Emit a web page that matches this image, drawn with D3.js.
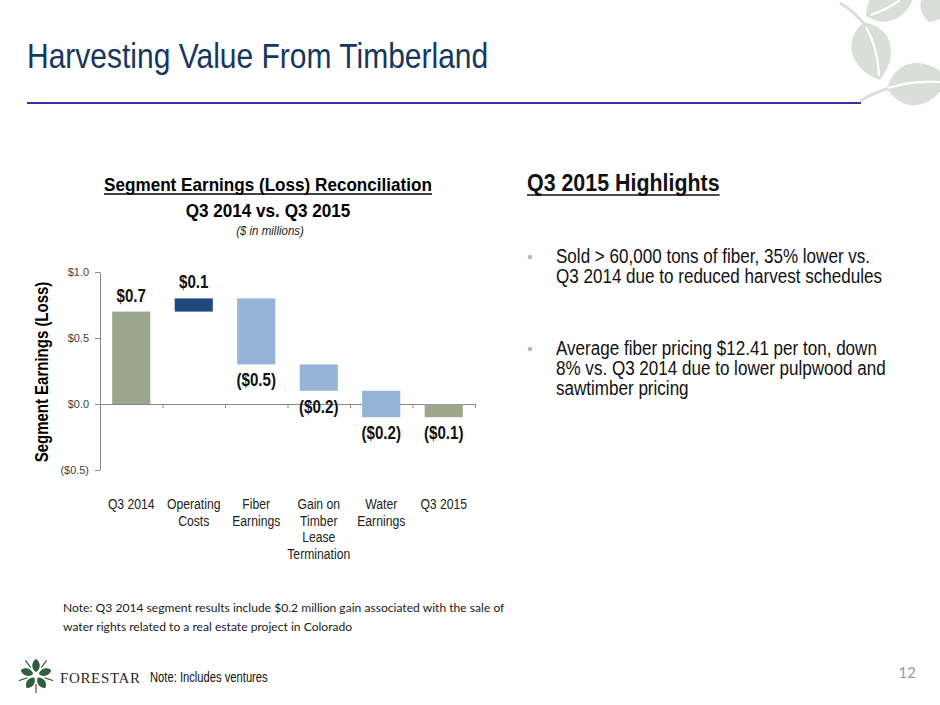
<!DOCTYPE html>
<html>
<head>
<meta charset="utf-8">
<script src="https://cdn.jsdelivr.net/npm/d3@7"></script>
<style>
  body { margin: 0; background: #fff; }
  svg { display: block; }
</style>
</head>
<body>
<svg width="940" height="705"></svg>
<script>
// waterfall data, Q3 2014 -> Q3 2015 ($ in millions)
var categories = ["Q3 2014", "Operating Costs", "Fiber Earnings", "Gain on Timber Lease Termination", "Water Earnings", "Q3 2015"];
var categoryLines = [["Q3 2014"], ["Operating", "Costs"], ["Fiber", "Earnings"], ["Gain on", "Timber", "Lease", "Termination"], ["Water", "Earnings"], ["Q3 2015"]];
var barStart = [0, 0.7, 0.8, 0.3, 0.1, 0];
var barEnd = [0.7, 0.8, 0.3, 0.1, -0.1, -0.1];
var barKind = ["total", "increase", "decrease", "decrease", "decrease", "total"];
var valueLabels = ["$0.7", "$0.1", "($0.5)", "($0.2)", "($0.2)", "($0.1)"];
var yTicks = [-0.5, 0, 0.5, 1.0];

var bullets = [
  ["Sold > 60,000 tons of fiber, 35% lower vs.", "Q3 2014 due to reduced harvest schedules"],
  ["Average fiber pricing $12.41 per ton, down", "8% vs. Q3 2014 due to lower pulpwood and", "sawtimber pricing"]
];
var noteLines = [
  "Note: Q3 2014 segment results include $0.2 million gain associated with the sale of",
  "water rights related to a real estate project in Colorado"
];

var sans = "'Liberation Sans', Arial, Helvetica, sans-serif";
var colors = { total: "#9BA68D", increase: "#1F497D", decrease: "#95B3D7" };

var svg = d3.select("svg");

// no narrow Helvetica here, so squeeze the glyphs horizontally
function squeeze(sel, k) {
  sel.each(function () {
    var len = this.getComputedTextLength();
    d3.select(this).attr("textLength", len * k).attr("lengthAdjust", "spacingAndGlyphs");
  });
  return sel;
}

// ---- slide header ----
squeeze(svg.append("text")
  .attr("x", 27).attr("y", 68)
  .style("font-family", sans)
  .style("font-size", "35px")
  .style("fill", "#17375E")
  .text("Harvesting Value From Timberland"), 0.857);

svg.append("line")
  .attr("x1", 27).attr("x2", 861)
  .attr("y1", 103).attr("y2", 103)
  .style("stroke", "#3333A0")
  .style("stroke-width", 2.2);

// leaf decoration top right
var deco = svg.append("g").style("fill", "#D9DFD8");
function leaf(g, x, y, len, wid, ang) {
  var p = "M0,0 C" + len * 0.2 + "," + (-wid) + " " + len * 0.7 + "," + (-wid) + " " + len + ",0" +
          " C" + len * 0.7 + "," + wid + " " + len * 0.2 + "," + wid + " 0,0Z";
  g.append("path")
    .attr("d", p)
    .attr("transform", "translate(" + x + "," + y + ")rotate(" + ang + ")");
}
leaf(deco, 866, 16, 56, 22, -28);
leaf(deco, 929, 22, 42, 19, -72);
leaf(deco, 864, 22, 60, 26, 75);
leaf(deco, 887, 89, 62, 28, -10);
deco.append("path")
  .attr("d", "M840,3 Q855,12 866,26")
  .style("fill", "none").style("stroke", "#D9DFD8").style("stroke-width", 3);
deco.append("path")
  .attr("d", "M866,27 Q878,48 879,76")
  .style("fill", "none").style("stroke", "#fff").style("stroke-width", 2.2);
deco.append("path")
  .attr("d", "M860,101 Q875,92 890,88")
  .style("fill", "none").style("stroke", "#D9DFD8").style("stroke-width", 3);
deco.append("path")
  .attr("d", "M888,88 Q915,80 940,82")
  .style("fill", "none").style("stroke", "#fff").style("stroke-width", 2.2);
deco.append("path")
  .attr("d", "M871,15 Q888,9 900,0")
  .style("fill", "none").style("stroke", "#fff").style("stroke-width", 2.2);

// ---- chart titles ----
var t1 = squeeze(svg.append("text")
  .attr("x", 268).attr("y", 191)
  .attr("text-anchor", "middle")
  .style("font-family", sans)
  .style("font-size", "19px")
  .style("font-weight", "bold")
  .style("fill", "#000")
  .text("Segment Earnings (Loss) Reconciliation"), 0.9);
var w1 = +t1.attr("textLength");
svg.append("line")
  .attr("x1", 268 - w1 / 2).attr("x2", 268 + w1 / 2)
  .attr("y1", 194).attr("y2", 194)
  .style("stroke", "#000").style("stroke-width", 1.3);

squeeze(svg.append("text")
  .attr("x", 268).attr("y", 217)
  .attr("text-anchor", "middle")
  .style("font-family", sans)
  .style("font-size", "19px")
  .style("font-weight", "bold")
  .text("Q3 2014 vs. Q3 2015"), 0.9);

squeeze(svg.append("text")
  .attr("x", 270).attr("y", 235)
  .attr("text-anchor", "middle")
  .style("font-family", sans)
  .style("font-size", "12.5px")
  .style("font-style", "italic")
  .style("fill", "#222")
  .text("($ in millions)"), 0.92);

// ---- scales ----
var xScale = d3.scaleBand().domain(categories).range([100, 475]).padding(0);
var yScale = d3.scaleLinear().domain([-0.5, 1.0]).range([470, 272]);
var bw = xScale.bandwidth();
var barW = bw * 0.61;

// y axis
var yAxis = svg.append("g")
  .attr("transform", "translate(100,0)")
  .call(d3.axisLeft(yScale)
    .tickValues(yTicks)
    .tickSize(5)
    .tickSizeOuter(0)
    .tickFormat(function (v) {
      return v < 0 ? "($" + Math.abs(v).toFixed(1) + ")" : "$" + v.toFixed(1);
    }));
yAxis.selectAll("path, line").style("stroke", "#888");
squeeze(yAxis.selectAll("text")
  .attr("x", -11)
  .style("font-family", sans)
  .style("font-size", "11.5px")
  .style("fill", "#404040"), 0.95);

// x axis at zero with tick marks on band edges
var edgeScale = d3.scaleLinear().domain([0, categories.length]).range([100, 475]);
var xAxis = svg.append("g")
  .attr("transform", "translate(0," + yScale(0) + ")")
  .call(d3.axisBottom(edgeScale)
    .tickValues(d3.range(1, categories.length + 1))
    .tickSize(4)
    .tickSizeOuter(0)
    .tickFormat(""));
xAxis.selectAll("path, line").style("stroke", "#888");

// y axis title
squeeze(svg.append("text")
  .attr("text-anchor", "middle")
  .attr("transform", "translate(48,372)rotate(-90)")
  .style("font-family", sans)
  .style("font-size", "18.5px")
  .style("font-weight", "bold")
  .text("Segment Earnings (Loss)"), 0.81);

// ---- bars ----
var idx = d3.range(categories.length);
svg.append("g")
  .selectAll("rect")
  .data(idx)
  .enter()
  .append("rect")
  .attr("x", function (i) { return xScale(categories[i]) + (bw - barW) / 2; })
  .attr("y", function (i) { return yScale(Math.max(barStart[i], barEnd[i])); })
  .attr("width", barW)
  .attr("height", function (i) { return Math.abs(yScale(barStart[i]) - yScale(barEnd[i])); })
  .style("fill", function (i) { return colors[barKind[i]]; });

// value labels: above for gains, below for losses
squeeze(svg.append("g")
  .selectAll("text")
  .data(idx)
  .enter()
  .append("text")
  .attr("x", function (i) { return xScale(categories[i]) + bw / 2; })
  .attr("y", function (i) {
    var up = barEnd[i] > barStart[i];
    return up ? yScale(Math.max(barStart[i], barEnd[i])) - 10
              : yScale(Math.min(barStart[i], barEnd[i])) + 22;
  })
  .attr("text-anchor", "middle")
  .style("font-family", sans)
  .style("font-size", "18px")
  .style("font-weight", "bold")
  .style("fill", "#111")
  .text(function (i) { return valueLabels[i]; }), 0.84);

// category labels, one text per line
var catRows = [];
categoryLines.forEach(function (lines, i) {
  lines.forEach(function (line, k) { catRows.push({ i: i, k: k, t: line }); });
});
squeeze(svg.append("g")
  .selectAll("text")
  .data(catRows)
  .enter()
  .append("text")
  .attr("x", function (d) { return xScale(categories[d.i]) + bw / 2; })
  .attr("y", function (d) { return 509 + d.k * 16.5; })
  .attr("text-anchor", "middle")
  .style("font-family", sans)
  .style("font-size", "14px")
  .style("fill", "#222")
  .text(function (d) { return d.t; }), 0.87);

// ---- highlights ----
var h = squeeze(svg.append("text")
  .attr("x", 527).attr("y", 191)
  .style("font-family", sans)
  .style("font-size", "23px")
  .style("font-weight", "bold")
  .style("fill", "#111")
  .text("Q3 2015 Highlights"), 0.93);
svg.append("line")
  .attr("x1", 527).attr("x2", 527 + (+h.attr("textLength")))
  .attr("y1", 195).attr("y2", 195)
  .style("stroke", "#111").style("stroke-width", 1.5);

var bulletTop = [263, 355];
bullets.forEach(function (lines, b) {
  svg.append("circle")
    .attr("cx", 530).attr("cy", bulletTop[b] - 6)
    .attr("r", 2.3)
    .style("fill", "#B8B8B8");
  lines.forEach(function (line, k) {
    squeeze(svg.append("text")
      .attr("x", 556)
      .attr("y", bulletTop[b] + k * 20)
      .style("font-family", sans)
      .style("font-size", "19.5px")
      .style("fill", "#111")
      .text(line), 0.874);
  });
});

// ---- note ----
noteLines.forEach(function (line, k) {
  svg.append("text")
    .attr("x", 63).attr("y", 612 + k * 19)
    .style("font-family", "Lato, 'Open Sans', sans-serif")
    .style("font-size", "12.1px")
    .style("fill", "#1a1a1a")
    .text(line);
});

// ---- footer ----
var logo = svg.append("g").attr("transform", "translate(36,675)");
d3.range(5).forEach(function (k) {
  var a = k * 72 - 90;
  logo.append("path")
    .attr("d", "M0,0 C3,-5 10,-5 13,0 C10,5 3,5 0,0Z")
    .attr("transform", "rotate(" + a + ")translate(3,0)")
    .style("fill", "#2F5E3B");
  logo.append("line")
    .attr("x1", 0).attr("y1", 0).attr("x2", 9).attr("y2", 0)
    .attr("transform", "rotate(" + (a + 36) + ")translate(9,0)")
    .style("stroke", "#2F5E3B").style("stroke-width", 1.2);
});

svg.append("text")
  .attr("x", 60).attr("y", 683)
  .attr("textLength", 80)
  .style("font-family", "'Liberation Serif', 'DejaVu Serif', serif")
  .style("font-size", "15px")
  .style("fill", "#2a2a2a")
  .text("FORESTAR");

squeeze(svg.append("text")
  .attr("x", 150).attr("y", 682)
  .style("font-family", sans)
  .style("font-size", "14px")
  .style("fill", "#111")
  .text("Note: Includes ventures"), 0.8);

svg.append("text")
  .attr("x", 916).attr("y", 678)
  .attr("text-anchor", "end")
  .style("font-family", "Lato, sans-serif")
  .style("font-size", "15px")
  .style("fill", "#999")
  .text("12");
</script>
</body>
</html>
